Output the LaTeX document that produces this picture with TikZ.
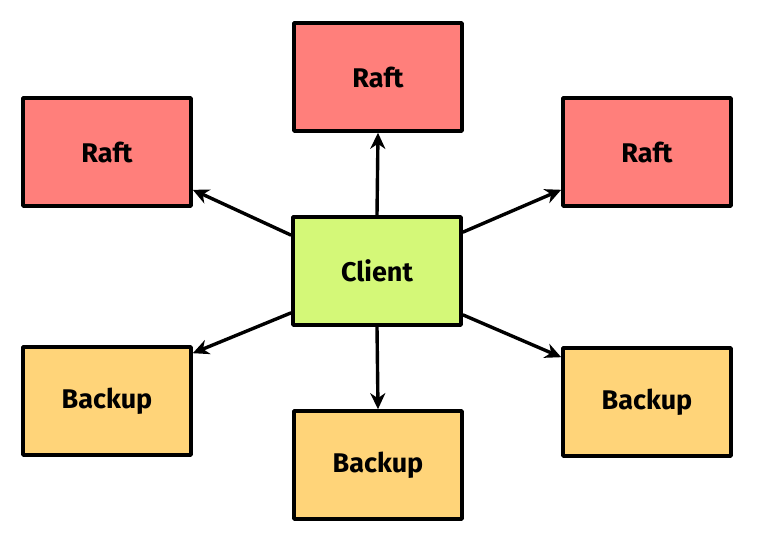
\documentclass[tikz,border=0pt]{standalone}
\usepackage{fontspec}
\setmainfont{Fira Sans}
\usetikzlibrary{arrows.meta}
\definecolor{raftred}{HTML}{FF7F7B}
\definecolor{clientgreen}{HTML}{D4F878}
\definecolor{backupyellow}{HTML}{FFD479}
\tikzset{
  box/.style={draw, line width=3.6pt, line join=round, minimum width=168pt,
    minimum height=108pt, inner sep=0pt, font=\fontsize{27}{30}\selectfont\bfseries},
  raftbox/.style={box, fill=raftred},
  clientbox/.style={box, fill=clientgreen},
  backupbox/.style={box, fill=backupyellow},
  link/.style={-{Stealth[length=16pt,width=15pt,inset=5pt]}, line width=3.4pt}
}
\begin{document}
\begin{tikzpicture}[x=1pt, y=-1pt]
\useasboundingbox (0, 0) rectangle (761, 535);
\node [raftbox] (raftTop) at (378, 77) {Raft};
\node [raftbox] (raftLeft) at (107, 152) {Raft};
\node [raftbox] (raftRight) at (647, 152) {Raft};
\node [clientbox] (client) at (377, 271) {Client};
\node [backupbox] (backupLeft) at (107, 401) {Backup};
\node [backupbox] (backupBottom) at (378, 465) {Backup};
\node [backupbox] (backupRight) at (647, 402) {Backup};
% client to the raft group
\draw [link] (client.north) -- (raftTop.south);
\draw [link] ([yshift=-20pt]client.north west) -- ([yshift=18pt]raftLeft.south east);
\draw [link] ([yshift=-17pt]client.north east) -- ([yshift=18pt]raftRight.south west);
% client to the backups
\draw [link] (client.south) -- (backupBottom.north);
\draw [link] ([yshift=14pt]client.south west) -- ([yshift=-8pt]backupLeft.north east);
\draw [link] ([yshift=12pt]client.south east) -- ([yshift=-11pt]backupRight.north west);
\end{tikzpicture}
\end{document}
